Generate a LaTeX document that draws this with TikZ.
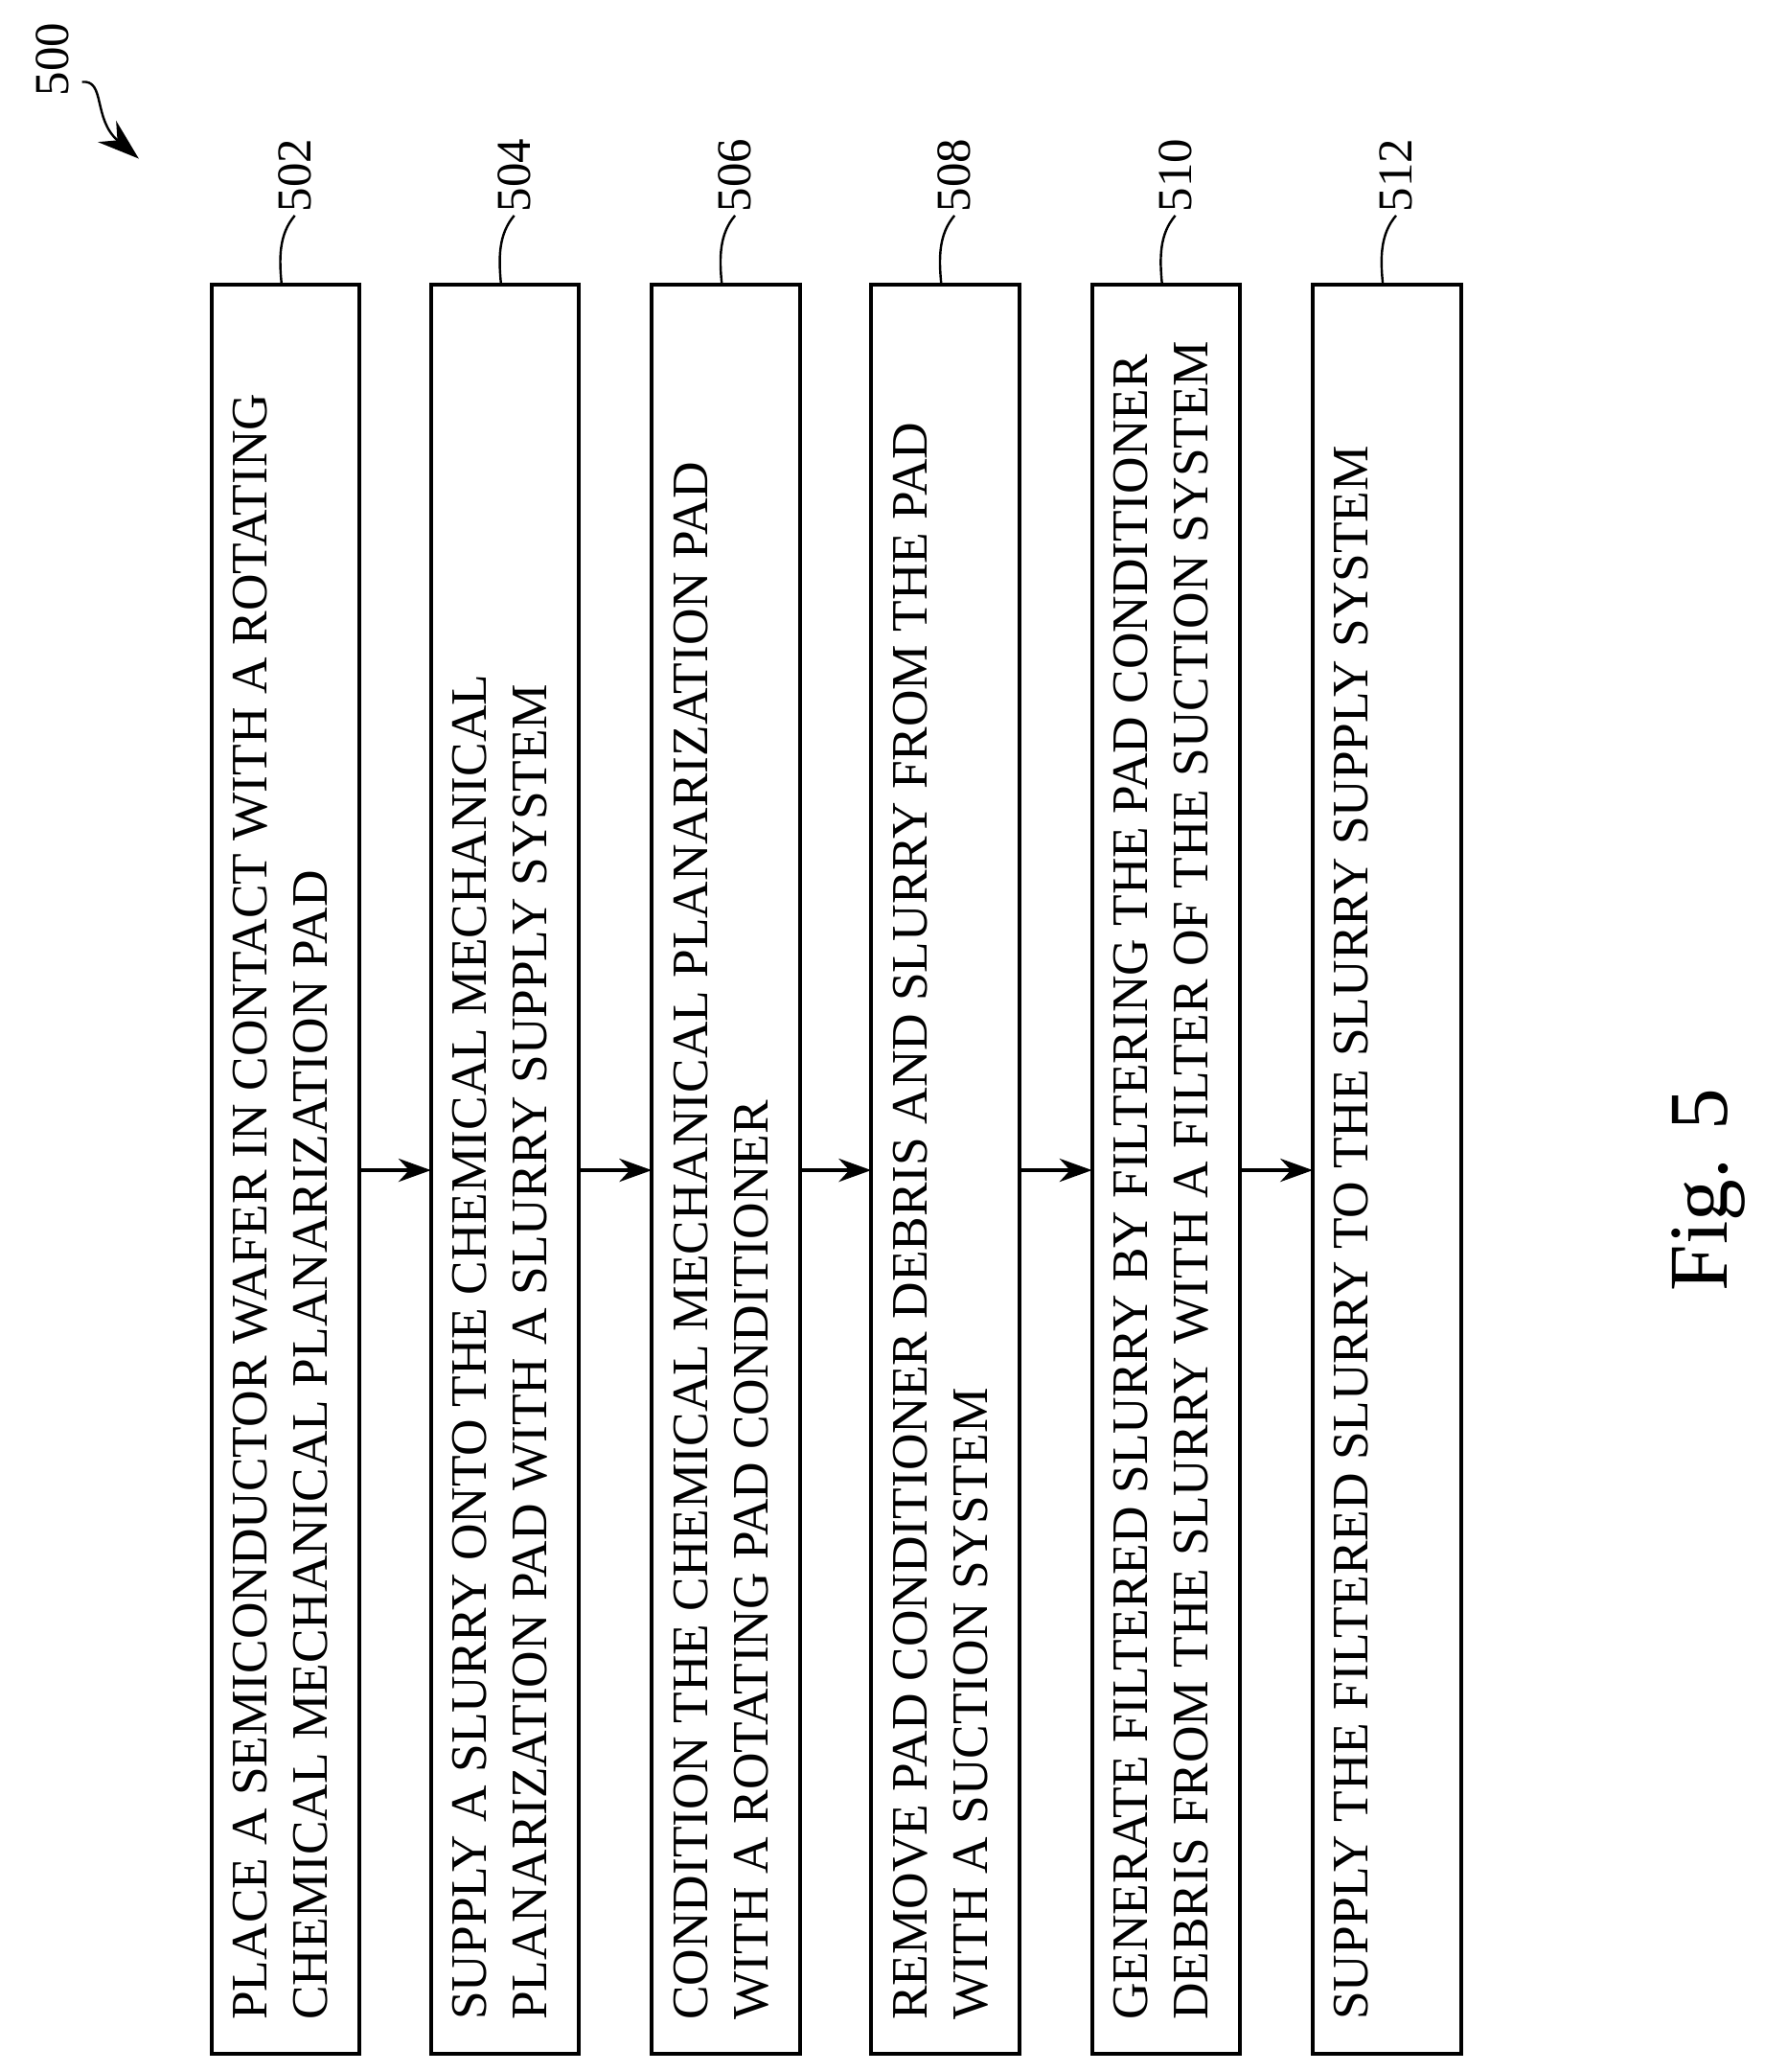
\documentclass[tikz,border=0pt]{standalone}
\usepackage{fontspec}
\setmainfont{Liberation Serif}
\usetikzlibrary{arrows.meta}
\begin{document}
\begin{tikzpicture}[x=0.02cm,y=0.02cm,
  step box/.style={draw,line width=1.6pt},
  step text/.style={rotate=90,anchor=north west,align=left,inner sep=0pt,
   font=\fontsize{22}{26}\selectfont},
  ref label/.style={rotate=90,font=\fontsize{21}{24}\selectfont},
  flow/.style={line width=1.4pt,-{Stealth[length=14pt,width=10pt]}}]
 \useasboundingbox (0,0) rectangle (1335,-1567);
 \foreach \n/\x/\txt in {1/160/{PLACE A SEMICONDUCTOR WAFER IN CONTACT WITH A ROTATING\\CHEMICAL MECHANICAL PLANARIZATION PAD},
   2/326/{SUPPLY A SLURRY ONTO THE CHEMICAL MECHANICAL\\PLANARIZATION PAD WITH A SLURRY SUPPLY SYSTEM},
   3/493/{CONDITION THE CHEMICAL MECHANICAL PLANARIZATION PAD\\WITH A ROTATING PAD CONDITIONER},
   4/659/{REMOVE PAD CONDITIONER DEBRIS AND SLURRY FROM THE PAD\\WITH A SUCTION SYSTEM},
   5/826/{GENERATE FILTERED SLURRY BY FILTERING THE PAD CONDITIONER\\DEBRIS FROM THE SLURRY WITH A FILTER OF THE SUCTION SYSTEM},
   6/993/{SUPPLY THE FILTERED SLURRY TO THE SLURRY SUPPLY SYSTEM}}{
  \draw[step box] (\x,-215) rectangle (\x+112,-1553);
  \coordinate (s\n-l) at (\x,-885);
  \coordinate (s\n-r) at (\x+112,-885);
  \coordinate (s\n-t) at (\x+53,-215);
  \node[step text] (t\n) at (\x+16,-1528) {\txt};
  \pgfmathtruncatemacro{\lab}{500+2*\n}
  \draw[line width=1pt] (s\n-t) .. controls ++(-2,20) and ++(-12,-14) .. ++(10,52) coordinate (c\n);
  \node[ref label,anchor=west] (r\n) at ([yshift=-2]c\n) {\lab};
 }
 \foreach \a/\b in {1/2,2/3,3/4,4/5,5/6}
  \draw[flow] (s\a-r) -- (s\b-l);
 \node[ref label] (fig) at (40,-45) {500};
 \draw[line width=1pt,-{Stealth[length=18pt,width=12pt]}] (62,-62) .. controls (80,-60) and (70,-90) .. (105,-120);
 \node[rotate=90,font=\fontsize{36}{40}\selectfont] (cap) at (1292,-900) {Fig. 5};
\end{tikzpicture}
\end{document}
